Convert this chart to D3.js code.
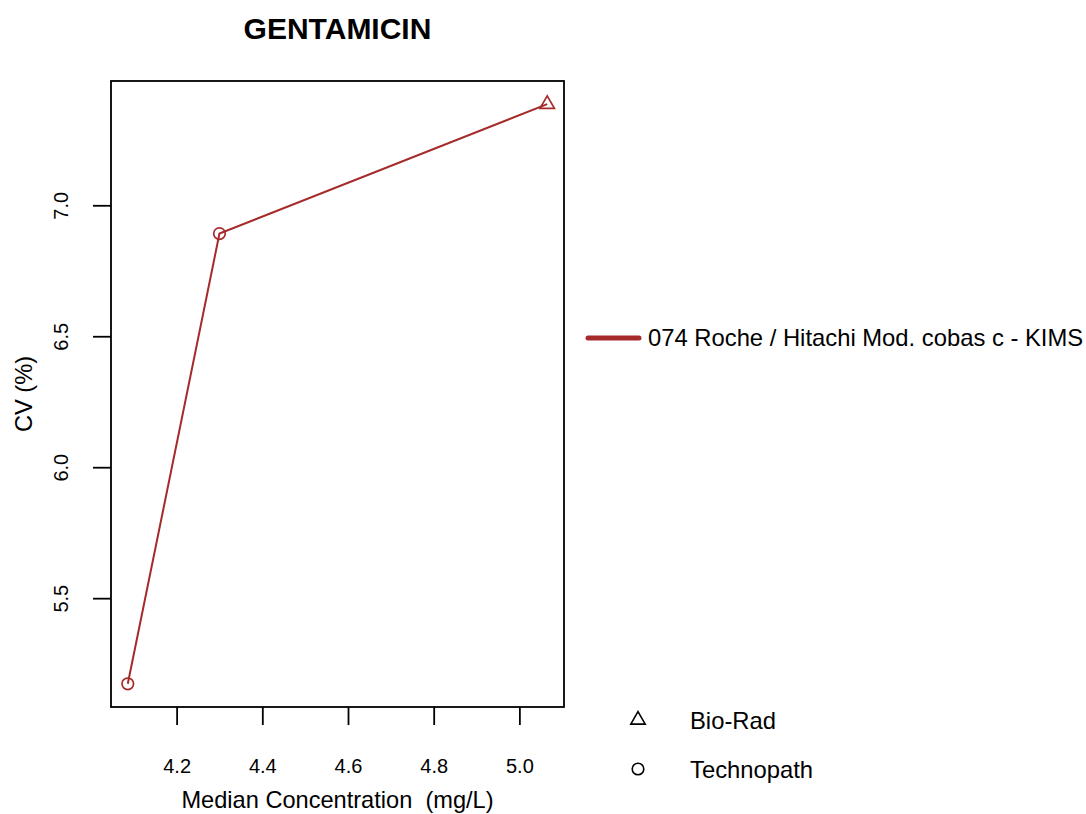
<!DOCTYPE html>
<html>
<head>
<meta charset="utf-8">
<script src="https://cdn.jsdelivr.net/npm/d3@7"></script>
<style>
  body { margin: 0; background: #fff; }
  text { font-family: "Liberation Sans", Arial, sans-serif; fill: #000; white-space: pre; }
</style>
</head>
<body>
<svg id="chart" width="1086" height="814"></svg>
<script>
// values
var concentrations = [4.086, 4.300, 5.065];
var cvValues = [5.173, 6.892, 7.386];
var suppliers = ["Technopath", "Technopath", "Bio-Rad"];
var xTicks = [4.2, 4.4, 4.6, 4.8, 5.0];
var yTicks = [5.5, 6.0, 6.5, 7.0];
var methodName = "074 Roche / Hitachi Mod. cobas c - KIMS";
var legendSuppliers = ["Bio-Rad", "Technopath"];

function generateChart() {
    var svg = d3.select("#chart");
    var color = "#A52A2A";
    var left = 111, right = 564, top = 81, bottom = 707;

    // R style: 4% padding on each side of data range
    function padded(vals) {
        var ext = d3.extent(vals), d = (ext[1] - ext[0]) * 0.04;
        return [ext[0] - d, ext[1] + d];
    }

    var x = d3.scaleLinear().domain(padded(concentrations)).range([left, right]);
    var y = d3.scaleLinear().domain(padded(cvValues)).range([bottom, top]);

    var points = concentrations.map((c, i) => ({x: c, y: cvValues[i], s: suppliers[i]}));

    // title
    svg.append("text")
        .attr("x", (left + right) / 2)
        .attr("y", 39)
        .attr("text-anchor", "middle")
        .style("font-weight", "bold")
        .style("font-size", "30px")
        .text("GENTAMICIN");

    // line
    let line = d3.line().x(d => x(d.x)).y(d => y(d.y));
    svg.append("path")
        .attr("d", line(points))
        .attr("fill", "none")
        .attr("stroke", color)
        .attr("stroke-width", 2);

    var symbol = {
        "Bio-Rad": d3.symbol().type(d3.symbolTriangle).size(90),
        "Technopath": d3.symbol().type(d3.symbolCircle).size(105)
    };

    svg.append("g")
        .selectAll("path")
        .data(points)
        .enter()
        .append("path")
        .attr("transform", d => "translate(" + x(d.x) + "," + y(d.y) + ")")
        .attr("d", d => symbol[d.s]())
        .attr("fill", "none")
        .attr("stroke", color)
        .attr("stroke-width", 1.7);

    // box
    svg.append("rect")
        .attr("x", left).attr("y", top)
        .attr("width", right - left).attr("height", bottom - top)
        .attr("fill", "none")
        .attr("stroke", "#000")
        .attr("stroke-width", 1.8);

    // x axis
    var xAxis = svg.append("g")
        .attr("transform", "translate(0," + bottom + ")")
        .call(d3.axisBottom(x).tickValues(xTicks).tickFormat(d3.format(".1f")).tickSize(18).tickPadding(34));
    xAxis.select(".domain").remove();
    xAxis.selectAll("line").attr("stroke-width", 1.8);
    xAxis.selectAll("text").style("font-size", "20px").attr("font-family", null);

    // y axis
    var yAxis = svg.append("g")
        .attr("transform", "translate(" + left + ",0)")
        .call(d3.axisLeft(y).tickValues(yTicks).tickFormat(d3.format(".1f")).tickSize(18));
    yAxis.select(".domain").remove();
    yAxis.selectAll("line").attr("stroke-width", 1.8);
    yAxis.selectAll("text")
        .attr("x", null).attr("dy", null)
        .attr("text-anchor", "middle")
        .attr("transform", "translate(-43,0) rotate(-90)")
        .style("font-size", "20px").attr("font-family", null);

    // axis titles
    svg.append("text")
        .attr("x", (left + right) / 2)
        .attr("y", 808)
        .attr("text-anchor", "middle")
        .style("font-size", "23.6px")
        .text("Median Concentration  (mg/L)");

    svg.append("text")
        .attr("transform", "translate(32," + (top + bottom) / 2 + ") rotate(-90)")
        .attr("text-anchor", "middle")
        .style("font-size", "23.6px")
        .text("CV (%)");

    // method legend
    svg.append("line")
        .attr("x1", 588).attr("x2", 639)
        .attr("y1", 338).attr("y2", 338)
        .attr("stroke", color)
        .attr("stroke-width", 5)
        .attr("stroke-linecap", "round");
    svg.append("text")
        .attr("x", 648).attr("y", 346)
        .style("font-size", "23.8px")
        .text(methodName);

    // supplier legend
    var lg = svg.append("g")
        .selectAll("g")
        .data(legendSuppliers)
        .enter()
        .append("g")
        .attr("transform", (d, i) => "translate(638," + (720 + i * 49) + ")");
    lg.append("path")
        .attr("d", d => symbol[d]())
        .attr("fill", "none")
        .attr("stroke", "#000")
        .attr("stroke-width", 1.6);
    lg.append("text")
        .attr("x", 52).attr("y", 9)
        .style("font-size", "23.8px")
        .text(d => d);
}

generateChart();
</script>
</body>
</html>
